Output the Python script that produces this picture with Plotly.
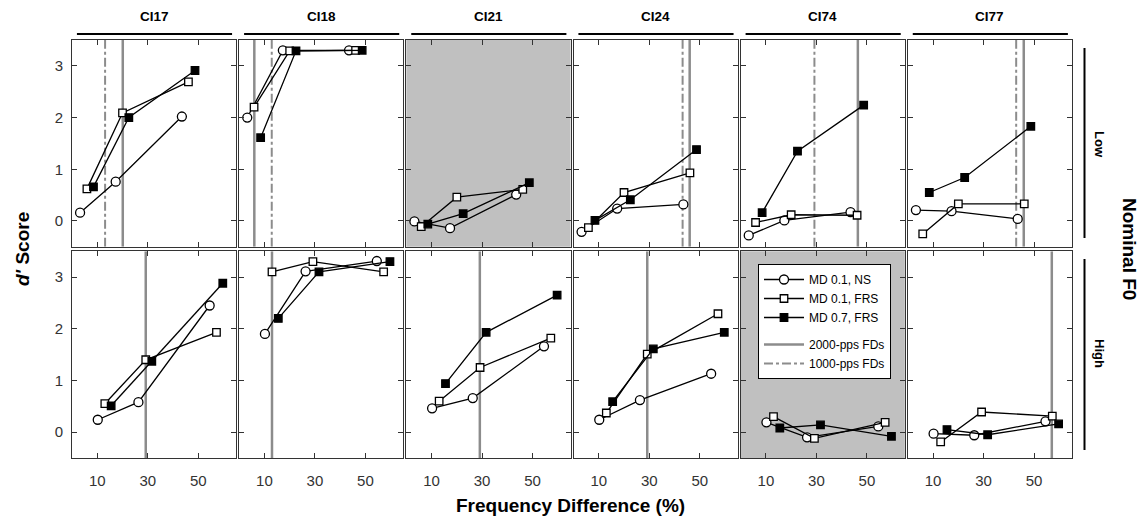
import plotly.graph_objects as go
from plotly.subplots import make_subplots

# ---------------- data ----------------
SUBJECTS = ["CI17", "CI18", "CI21", "CI24", "CI74", "CI77"]
ROW_LABELS = ["Low", "High"]
X_TICKS = [10, 30, 50]
Y_TICKS = [0, 1, 2, 3]
X_RANGE = [0, 65]
Y_RANGE = [-0.5, 3.5]

# frequency-difference positions (%) of each condition (slightly offset)
X_LOW_NS = [3.2, 17.3, 43.5]
X_LOW_FRS01 = [5.9, 20.0, 46.1]
X_LOW_FRS07 = [8.5, 22.5, 48.7]
X_HIGH_NS = [10.2, 26.3, 54.5]
X_HIGH_FRS01 = [13.0, 29.2, 57.2]
X_HIGH_FRS07 = [15.5, 31.6, 59.7]

# d' scores, Low nominal F0 (one list per subject)
LOW_NS = [[0.16, 0.76, 2.02], [2.00, 3.30, 3.30], [-0.01, -0.14, 0.51],
          [-0.21, 0.24, 0.32], [-0.28, 0.01, 0.17], [0.21, 0.19, 0.04]]
LOW_FRS01 = [[0.62, 2.09, 2.69], [2.20, 3.29, 3.30], [-0.11, 0.46, 0.61],
             [-0.13, 0.55, 0.93], [-0.03, 0.12, 0.11], [-0.25, 0.33, 0.33]]
LOW_FRS07 = [[0.66, 2.00, 2.91], [1.61, 3.29, 3.30], [-0.06, 0.14, 0.74],
             [0.01, 0.41, 1.38], [0.16, 1.35, 2.24], [0.55, 0.84, 1.83]]

# d' scores, High nominal F0
HIGH_NS = [[0.24, 0.58, 2.45], [1.90, 3.11, 3.31], [0.46, 0.66, 1.66],
           [0.24, 0.62, 1.13], [0.19, -0.10, 0.11], [-0.03, -0.06, 0.21]]
HIGH_FRS01 = [[0.55, 1.40, 1.93], [3.10, 3.30, 3.10], [0.60, 1.25, 1.82],
              [0.37, 1.51, 2.29], [0.30, -0.12, 0.19], [-0.19, 0.39, 0.31]]
HIGH_FRS07 = [[0.51, 1.37, 2.88], [2.20, 3.10, 3.30], [0.94, 1.93, 2.65],
              [0.59, 1.61, 1.93], [0.08, 0.14, -0.08], [0.05, -0.05, 0.16]]

# frequency-difference reference lines (None = absent)
FD2000_LOW = [20.1, 6.0, None, 46.0, 46.4, 45.9]
FD1000_LOW = [13.1, 12.9, None, 43.2, 29.2, 42.9]
FD2000_HIGH = [29.2, 13.0, 29.1, 29.2, None, 57.0]
FD1000_HIGH = [None, None, None, None, None, None]

# shaded panels (row, col)
SHADED = [(1, 3), (2, 5)]

SERIES_NAMES = ["MD 0.1, NS", "MD 0.1, FRS", "MD 0.7, FRS"]

# ---------------- figure ----------------
W, H = 1143, 517
ML, MR, MT, MB = 72, 71, 40, 59
PW, PH = W - ML - MR, H - MT - MB
FONT = "Liberation Sans, Arial, sans-serif"
GRAY = "#8c8c8c"
AXC = "#333333"


def xp(px):
    return (px - ML) / PW


def yp(py):
    return (H - MB - py) / PH


fig = make_subplots(rows=2, cols=6, horizontal_spacing=3 / PW,
                    vertical_spacing=4.4 / PH)

series_style = [
    dict(symbol="circle", color="white", size=9),
    dict(symbol="square", color="white", size=7.5),
    dict(symbol="square", color="black", size=7.5),
]

shown = set()
for r in (1, 2):
    xs_all = [X_LOW_NS, X_LOW_FRS01, X_LOW_FRS07] if r == 1 else [X_HIGH_NS, X_HIGH_FRS01, X_HIGH_FRS07]
    ys_all = [LOW_NS, LOW_FRS01, LOW_FRS07] if r == 1 else [HIGH_NS, HIGH_FRS01, HIGH_FRS07]
    fd2 = FD2000_LOW if r == 1 else FD2000_HIGH
    fd1 = FD1000_LOW if r == 1 else FD1000_HIGH
    for c in range(1, 7):
        i = c - 1
        # reference lines
        for vals, name, dash, wid, rank in [(fd2, "2000-pps FDs", "solid", 2.5, 4),
                                            (fd1, "1000-pps FDs", "dashdot", 2, 5)]:
            v = vals[i]
            if v is None:
                continue
            fig.add_trace(go.Scatter(
                x=[v, v], y=Y_RANGE, mode="lines",
                line=dict(color=GRAY, width=wid, dash=dash),
                name=name, legendgroup="ref", legendrank=rank,
                showlegend=name not in shown, hoverinfo="skip"), row=r, col=c)
            shown.add(name)
        # data series
        for k in range(3):
            st = series_style[k]
            name = SERIES_NAMES[k]
            fig.add_trace(go.Scatter(
                x=xs_all[k], y=ys_all[k][i], mode="lines+markers",
                line=dict(color="black", width=1.3),
                marker=dict(symbol=st["symbol"], size=st["size"], color=st["color"],
                            line=dict(color="black", width=1.3)),
                name=name, legendgroup="data", legendrank=k + 1,
                showlegend=name not in shown), row=r, col=c)
            shown.add(name)

# axes
for r in (1, 2):
    for c in range(1, 7):
        fig.update_xaxes(range=X_RANGE, tickvals=X_TICKS, ticks="inside", ticklen=5,
                         tickcolor=AXC, showline=True, linecolor=AXC, linewidth=1,
                         mirror="ticks", showgrid=False, zeroline=False,
                         showticklabels=(r == 2), ticklabelstandoff=9,
                         tickfont=dict(family=FONT, size=15, color=AXC), row=r, col=c)
        fig.update_yaxes(range=Y_RANGE, tickvals=Y_TICKS, ticks="inside", ticklen=5,
                         tickcolor=AXC, showline=True, linecolor=AXC, linewidth=1,
                         mirror="ticks", showgrid=False, zeroline=False,
                         showticklabels=(c == 1), ticklabelstandoff=5,
                         tickfont=dict(family=FONT, size=15, color=AXC), row=r, col=c)

# shaded panels
for (r, c) in SHADED:
    idx = (r - 1) * 6 + c
    ax = "" if idx == 1 else str(idx)
    fig.add_shape(type="rect", xref=f"x{ax} domain", yref=f"y{ax} domain",
                  x0=0, x1=1, y0=0, y1=1, fillcolor="#c0c0c0",
                  line=dict(width=0), layer="below")


def label(text, x, y, size, angle=0, xref="paper"):
    fig.add_annotation(text=text, xref=xref, yref="paper", x=x, y=y,
                       xanchor="center", yanchor="middle", showarrow=False,
                       textangle=angle,
                       font=dict(family=FONT, size=size, color="black"))


# column headers with lines
for c, name in enumerate(SUBJECTS, start=1):
    ax = "" if c == 1 else str(c)
    label(f"<b>{name}</b>", 0.5, yp(16.5), 13.5, xref=f"x{ax} domain")
    fig.add_shape(type="line", xref=f"x{ax} domain", yref="paper",
                  x0=0.03, x1=0.975, y0=yp(34), y1=yp(34),
                  line=dict(color="black", width=2))

# row labels on the right
fig.add_shape(type="line", xref="paper", yref="paper", x0=xp(1084.5), x1=xp(1084.5),
              y0=yp(48), y1=yp(238), line=dict(color="black", width=2))
fig.add_shape(type="line", xref="paper", yref="paper", x0=xp(1084.5), x1=xp(1084.5),
              y0=yp(259), y1=yp(450), line=dict(color="black", width=2))
for lab, py in zip(ROW_LABELS, [144, 353]):
    label(f"<b>{lab}</b>", xp(1100), yp(py), 13, angle=90)
label("<b>Nominal F0</b>", xp(1130), yp(249), 19, angle=90)
label("<b><i>d'</i> Score</b>", xp(22), yp(249), 19, angle=-90)
label("<b>Frequency Difference (%)</b>", xp(570), yp(505), 19)

fig.update_layout(
    width=W, height=H, margin=dict(l=ML, r=MR, t=MT, b=MB),
    paper_bgcolor="white", plot_bgcolor="white",
    showlegend=True,
    legend=dict(x=xp(758), y=yp(264), xanchor="left", yanchor="top",
                bgcolor="white", bordercolor="black", borderwidth=1,
                traceorder="grouped", tracegroupgap=8,
                font=dict(family=FONT, size=12, color="black"),
                itemwidth=40),
    font=dict(family=FONT),
)

fig.write_html("out.html")
